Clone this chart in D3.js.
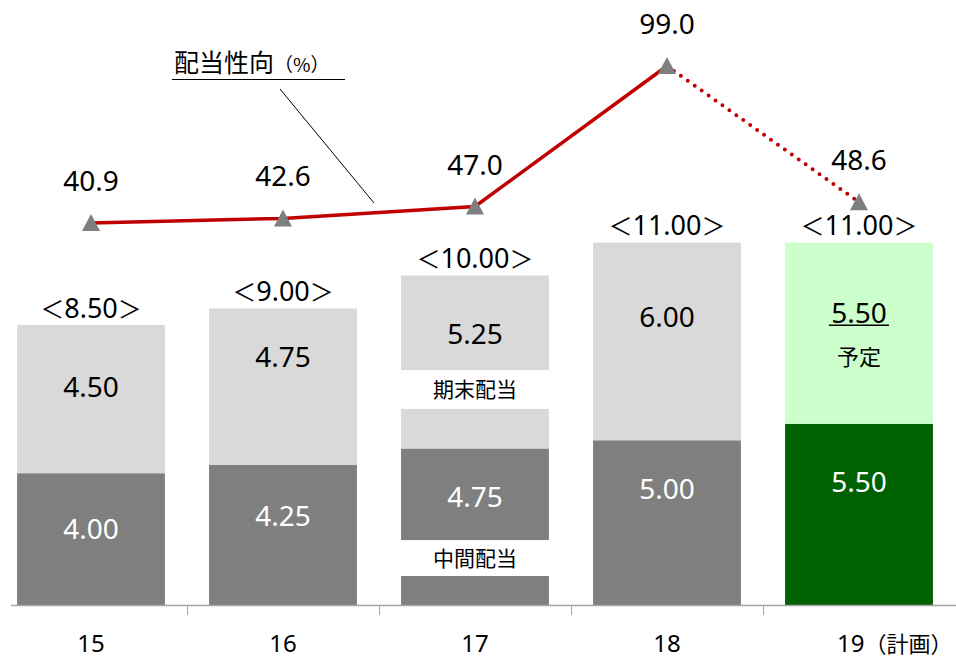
<!DOCTYPE html>
<html>
<head>
<meta charset="utf-8">
<script src="https://cdn.jsdelivr.net/npm/d3@7"></script>
<style>
  body { margin: 0; background: #fff; }
  svg { display: block; font-family: "Noto Sans", "Noto Sans CJK JP", sans-serif; }
  .jp { font-family: "Noto Sans CJK JP", sans-serif; }
</style>
</head>
<body>
<svg id="chart" width="956" height="659"></svg>
<script>
// fiscal years and dividends per share (yen)
const years = ["15", "16", "17", "18", "19"];
const planNote = "（計画）";
const interim = [4.00, 4.25, 4.75, 5.00, 5.50];   // 中間配当
const yearEnd = [4.50, 4.75, 5.25, 6.00, 5.50];   // 期末配当
const payout = [40.9, 42.6, 47.0, 99.0, 48.6];    // 配当性向 (%)
const planIndex = 4;

// small nudges for the value labels (px, relative to segment middle)
const lowDy = [-10, -19, -30, -34, -32];
const upDy = [-12, -30, -28, -24, -20];

const svg = d3.select("#chart");
const base = 605;

const x = d3.scaleBand().domain(years).range([-5, 955])
    .paddingInner(0.23).paddingOuter(0.115);
const y = d3.scaleLinear().domain([0, 11]).range([base, base - 11 * 32.95]);
const y2 = d3.scaleLinear().domain([0, 100]).range([333.5, 63.3]);
const cx = d => x(d) + x.bandwidth() / 2;

const lowCol = (i) => i === planIndex ? "#006100" : "#7f7f7f";
const upCol = (i) => i === planIndex ? "#ccffcc" : "#d9d9d9";

// bars
const g = svg.append("g");
years.forEach((yr, i) => {
  const tot = interim[i] + yearEnd[i];
  g.append("rect").attr("x", x(yr)).attr("width", x.bandwidth())
    .attr("y", y(interim[i])).attr("height", y(0) - y(interim[i]))
    .attr("fill", lowCol(i));
  g.append("rect").attr("x", x(yr)).attr("width", x.bandwidth())
    .attr("y", y(tot)).attr("height", y(interim[i]) - y(tot))
    .attr("fill", upCol(i));
});

// white label boxes on the 17 bar
const notes = [
  { text: "中間配当", lo: 0.88, hi: 1.97 },
  { text: "期末配当", lo: 5.95, hi: 7.13 }
];
notes.forEach(n => {
  g.append("rect").attr("x", x("17") - 1).attr("width", x.bandwidth() + 2)
    .attr("y", y(n.hi)).attr("height", y(n.lo) - y(n.hi)).attr("fill", "#fff");
  g.append("text").attr("class", "jp").attr("x", cx("17"))
    .attr("y", (y(n.hi) + y(n.lo)) / 2).attr("dy", "0.36em")
    .attr("text-anchor", "middle").attr("font-size", 21).attr("fill", "#000")
    .text(n.text);
});

// value labels
years.forEach((yr, i) => {
  const tot = interim[i] + yearEnd[i];
  g.append("text").attr("x", cx(yr))
    .attr("y", (y(0) + y(interim[i])) / 2 + lowDy[i]).attr("dy", "0.36em")
    .attr("text-anchor", "middle").attr("font-size", 28).attr("fill", "#fff")
    .text(interim[i].toFixed(2));
  g.append("text").attr("x", cx(yr))
    .attr("y", (y(interim[i]) + y(tot)) / 2 + upDy[i]).attr("dy", "0.36em")
    .attr("text-anchor", "middle").attr("font-size", 28).attr("fill", "#000")
    .text(yearEnd[i].toFixed(2));
  if (i === planIndex) {
    const yy = (y(interim[i]) + y(tot)) / 2 + upDy[i];
    g.append("line").attr("x1", cx(yr) - 30).attr("x2", cx(yr) + 30)
      .attr("y1", yy + 12).attr("y2", yy + 12).attr("stroke", "#000").attr("stroke-width", 1.5);
    g.append("text").attr("class", "jp").attr("x", cx(yr)).attr("y", yy + 44)
      .attr("dy", "0.36em").attr("text-anchor", "middle").attr("font-size", 22)
      .attr("fill", "#000").text("予定");
  }
  const t = g.append("text").attr("x", cx(yr)).attr("y", y(tot) - 17)
    .attr("dy", "0.36em").attr("text-anchor", "middle").attr("font-size", 27).attr("fill", "#000");
  t.append("tspan").attr("class", "jp").attr("font-size", 24).text("＜");
  t.append("tspan").text(tot.toFixed(2));
  t.append("tspan").attr("class", "jp").attr("font-size", 24).text("＞");
});

// axis
svg.append("line").attr("x1", 11).attr("x2", 956).attr("y1", base + 0.5).attr("y2", base + 0.5)
  .attr("stroke", "#a6a6a6").attr("stroke-width", 1.5);
years.slice(1).forEach(yr => {
  const tx = Math.round(x(yr) - x.step() * x.paddingInner() / 2) + 0.5;
  svg.append("line").attr("x1", tx).attr("x2", tx).attr("y1", base).attr("y2", base + 10)
    .attr("stroke", "#a6a6a6").attr("stroke-width", 1);
});
years.forEach((yr, i) => {
  const last = i === planIndex;
  const t = svg.append("text")
    .attr("x", last ? cx(yr) - 22 : cx(yr)).attr("y", 643).attr("dy", "0.36em")
    .attr("text-anchor", last ? "start" : "middle").attr("font-size", 24).attr("fill", "#000");
  t.append("tspan").text(yr);
  if (last) t.append("tspan").attr("class", "jp").attr("font-size", 22).text(planNote);
});

// payout ratio line
const pts = years.map((yr, i) => [cx(yr), y2(payout[i])]);
const line = d3.line();
svg.append("path").attr("d", line(pts.slice(0, planIndex)))
  .attr("fill", "none").attr("stroke", "#c00000").attr("stroke-width", 3.5);
svg.append("path").attr("d", line(pts.slice(planIndex - 1)))
  .attr("fill", "none").attr("stroke", "#c00000").attr("stroke-width", 4)
  .attr("stroke-linecap", "round").attr("stroke-dasharray", "0 8.5");
svg.selectAll(".tri").data(pts).join("path").attr("class", "tri")
  .attr("transform", d => `translate(${d[0]},${d[1]})`)
  .attr("d", "M0,-9L9,8L-9,8Z").attr("fill", "#7f7f7f");
svg.selectAll(".pl").data(pts).join("text").attr("class", "pl")
  .attr("x", d => d[0]).attr("y", d => d[1] - 42).attr("dy", "0.36em")
  .attr("text-anchor", "middle").attr("font-size", 28).attr("fill", "#000")
  .text((d, i) => payout[i].toFixed(1));

// legend callout
const lg = svg.append("text").attr("x", 174).attr("y", 66).attr("dy", "0.36em").attr("fill", "#000");
lg.append("tspan").attr("class", "jp").attr("font-size", 25).text("配当性向");
lg.append("tspan").attr("class", "jp").attr("font-size", 19).text("（%）");
svg.append("line").attr("x1", 172).attr("x2", 345).attr("y1", 79.5).attr("y2", 79.5)
  .attr("stroke", "#000").attr("stroke-width", 1.2);
svg.append("line").attr("x1", 280).attr("y1", 89).attr("x2", 374).attr("y2", 203)
  .attr("stroke", "#000").attr("stroke-width", 1);
</script>
</body>
</html>
